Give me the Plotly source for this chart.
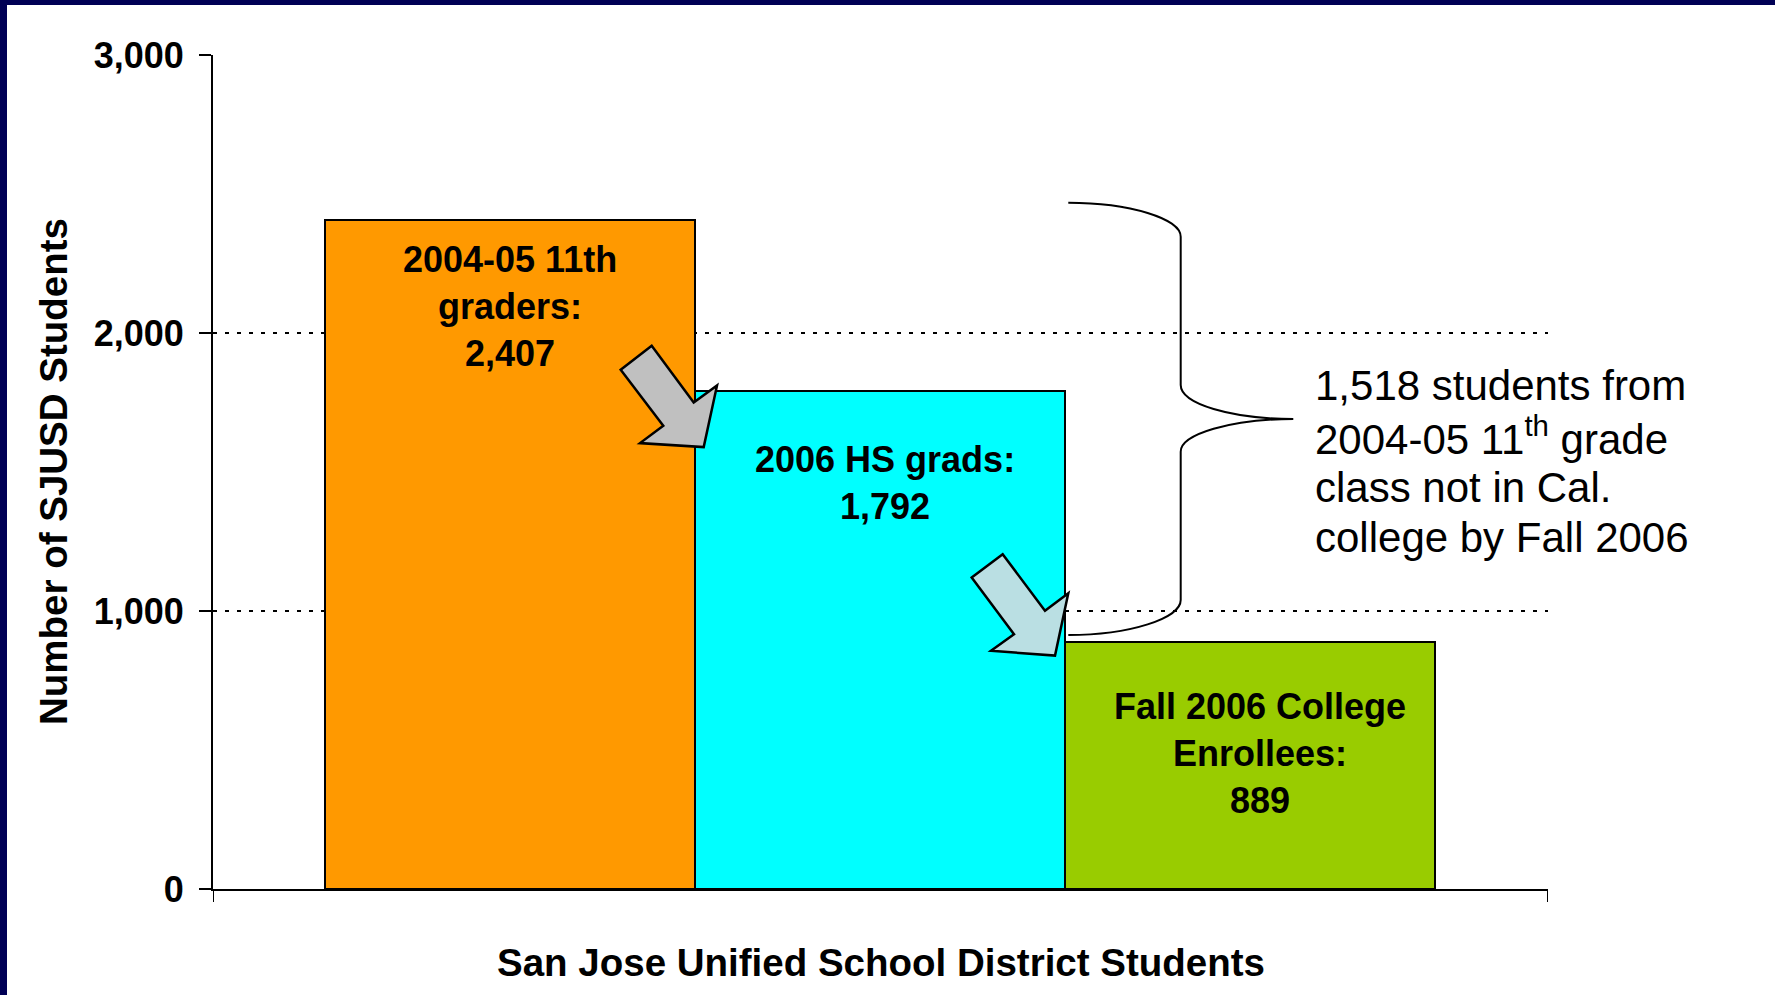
import plotly.graph_objects as go

# ---- data ----
categories = ["2004-05 11th graders", "2006 HS grads", "Fall 2006 College Enrollees"]
values = [2407, 1792, 889]
bar_labels = ["2004-05 11th<br>graders:<br>2,407", "2006 HS grads:<br>1,792", "Fall 2006 College<br>Enrollees:<br>889"]
bar_colors = ["#FF9900", "#00FFFF", "#99CC00"]
y_ticks = [0, 1000, 2000, 3000]
gap_value = values[0] - values[2]
note_lines = [f"{gap_value:,} students from", "2004-05 11<sup>th</sup> grade",
              "class not in Cal.", "college by Fall 2006"]

# ---- geometry helpers (pixel scale of the plot) ----
W, H = 1775, 995
ML, MR, MT, MB = 213, 227, 55, 106
plot_w = W - ML - MR
plot_h = H - MT - MB
YMAX = 3000
px_per_y = plot_h / YMAX
bar_px = 370.0
x0 = 0.5 - 112 / bar_px
x1 = x0 + plot_w / bar_px


def dx(p):
    return p / bar_px


def dy(p):
    return -p / px_per_y


def Xd(px):
    return x0 + (px - ML) / bar_px


def Yd(py):
    return (H - MB - py) / px_per_y


FONT = "Liberation Sans, Arial, sans-serif"

fig = go.Figure()
fig.add_trace(go.Bar(
    x=[1, 2, 3], y=values, width=1,
    marker=dict(color=bar_colors, line=dict(color="black", width=2)),
    hoverinfo="skip", showlegend=False,
))

# bar labels
label_y = [2097, 1462, 486]
label_shift = [0, 5, 10]
for i, (t, ly, sh) in enumerate(zip(bar_labels, label_y, label_shift)):
    fig.add_annotation(x=i + 1, y=ly, xref="x", yref="y", text=t, showarrow=False, xshift=sh,
                       font=dict(family=FONT, size=36, color="black", weight="bold"),
                       align="center", xanchor="center", yanchor="middle")

# arrows (pixel offsets relative to the corner of the next bar)
arrow1 = [(-43.3, -45), (-74.3, -21), (-31.7, 35), (-55, 52.3), (8.7, 56.3), (22, -5.3), (-1.3, 11.7)]
arrow2 = [(-62.3, -87.7), (-93.3, -64.3), (-51, -7.7), (-74, 9), (-10, 13.7), (3.3, -48.7), (-20, -31)]


def poly(corner_x, corner_y, offs):
    pts = [(corner_x + dx(a), corner_y + dy(b)) for a, b in offs]
    return "M " + " L ".join(f"{x:.4f},{y:.2f}" for x, y in pts) + " Z"


fig.add_shape(type="path", path=poly(1.5, values[1], arrow1), xref="x", yref="y",
              fillcolor="#C0C0C0", line=dict(color="black", width=2.5), layer="above")
fig.add_shape(type="path", path=poly(2.5, values[2], arrow2), xref="x", yref="y",
              fillcolor="#BADFE3", line=dict(color="black", width=2.5), layer="above")


def P(px, py):
    return f"{Xd(px):.4f},{Yd(py):.2f}"


brace = (
    f"M {P(1068.3, 202.7)} C {P(1130, 202.7)} {P(1180.7, 218.7)} {P(1180.7, 236.7)} "
    f"L {P(1180.7, 385)} C {P(1180.7, 403.7)} {P(1231, 419)} {P(1293.3, 419)} "
    f"C {P(1231, 419)} {P(1180.7, 434.3)} {P(1180.7, 451.7)} "
    f"L {P(1180.7, 600)} C {P(1180.7, 618.3)} {P(1130, 635)} {P(1068.3, 635)}"
)
fig.add_shape(type="path", path=brace, xref="x", yref="y",
              line=dict(color="black", width=2), layer="above")

# note text, one annotation per line
note_py = [385, 436, 487, 537]
for line, py in zip(note_lines, note_py):
    fig.add_annotation(x=Xd(1313), y=Yd(py), xref="x", yref="y", text=line,
                       showarrow=False, align="left", xanchor="left", yanchor="middle",
                       font=dict(family=FONT, size=42, color="black"))

# axis titles
fig.add_annotation(x=0, y=0.5, xref="paper", yref="paper", xshift=-160,
                   text="Number of SJUSD Students", textangle=-90, showarrow=False,
                   xanchor="center", yanchor="middle",
                   font=dict(family=FONT, size=38.5, color="black", weight="bold"))
fig.add_annotation(x=0.5, y=0, xref="paper", yref="paper", yshift=-73,
                   text="San Jose Unified School District Students", showarrow=False,
                   xanchor="center", yanchor="middle",
                   font=dict(family=FONT, size=38.5, color="black", weight="bold"))

# bottom tick marks at the ends of the category axis
for xv in (x0, x1):
    fig.add_shape(type="line", xref="x", yref="paper", x0=xv, x1=xv, y0=0, y1=-13 / plot_h,
                  line=dict(color="black", width=2))

# navy frame strips (left and top)
fig.add_shape(type="rect", xref="paper", yref="paper",
              x0=-ML / plot_w, x1=(7 - ML) / plot_w, y0=-MB / plot_h - 0.01, y1=(MT) / plot_h + 1.01,
              fillcolor="#000055", line=dict(width=0), layer="above")
fig.add_shape(type="rect", xref="paper", yref="paper",
              x0=-ML / plot_w - 0.01, x1=(W - ML) / plot_w + 0.01, y0=(MT - 5) / plot_h + 1, y1=(MT) / plot_h + 1.01,
              fillcolor="#000055", line=dict(width=0), layer="above")

fig.update_layout(
    width=W, height=H,
    margin=dict(l=ML, r=MR, t=MT, b=MB),
    paper_bgcolor="white", plot_bgcolor="white",
    bargap=0,
    xaxis=dict(range=[x0, x1], showgrid=False, zeroline=False, showline=True,
               linecolor="black", linewidth=2, ticks="", showticklabels=False, fixedrange=True),
    yaxis=dict(range=[0, YMAX], tickvals=y_ticks, tickformat=",d", showgrid=True,
               gridcolor="black", gridwidth=2, griddash="4px,8px", zeroline=False,
               showline=True, linecolor="black", linewidth=2, ticks="outside", ticklen=12,
               tickwidth=2, tickcolor="black", ticklabelstandoff=8,
               tickfont=dict(family=FONT, size=36, color="black", weight="bold"), fixedrange=True),
)

fig.write_html("out.html", config={"displayModeBar": False},
               post_script="document.body.style.margin='0px';")
